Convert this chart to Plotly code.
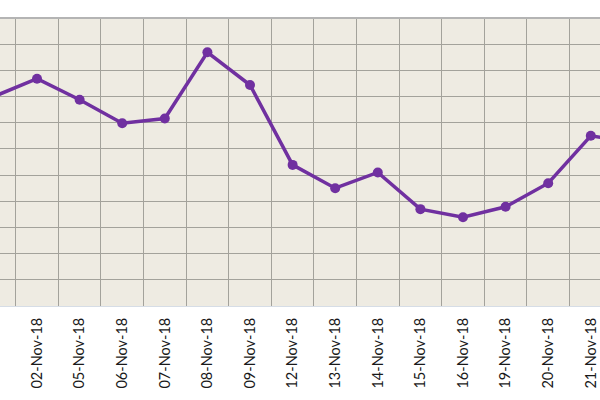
import plotly.graph_objects as go

# dates on the category axis (chart is a cut-out, first and last run off the edge)
dates = ["01-Nov-18", "02-Nov-18", "05-Nov-18", "06-Nov-18", "07-Nov-18",
         "08-Nov-18", "09-Nov-18", "12-Nov-18", "13-Nov-18", "14-Nov-18",
         "15-Nov-18", "16-Nov-18", "19-Nov-18", "20-Nov-18", "21-Nov-18",
         "22-Nov-18"]
values = [80.1, 86.8, 78.8, 69.8, 71.6, 96.9, 84.4, 53.9, 45.0, 51.0,
          37.0, 33.9, 37.9, 46.9, 65.0, 62.5]

purple = "#7030A0"

fig = go.Figure()
fig.add_trace(go.Scatter(
    x=dates, y=values, mode="lines+markers",
    line=dict(color=purple, width=3.5),
    marker=dict(color=purple, size=10),
    cliponaxis=True,
))

fig.update_layout(
    width=600, height=400,
    margin=dict(l=0, r=0, t=18, b=94, autoexpand=False),
    paper_bgcolor="white",
    plot_bgcolor="#EEEBE2",
    showlegend=False,
    font=dict(family="Lato", size=14.5, color="#1A1A1A"),
)
fig.update_xaxes(
    type="category",
    range=[0.131, 14.216],
    automargin=False,
    tickson="boundaries",
    showgrid=True, gridcolor="#A3A29B", gridwidth=1,
    tickangle=-90,
    ticks="", ticklabelstandoff=5,
    showline=True, linecolor="#D6DDE6", linewidth=1,
    zeroline=False,
)
fig.update_yaxes(
    range=[0, 110], dtick=10,
    automargin=False,
    showgrid=True, gridcolor="#A3A29B", gridwidth=1,
    showticklabels=False, zeroline=False,
)
# grey rule along the top of the plot area
fig.add_shape(type="line", xref="paper", yref="paper", x0=0, x1=1, y0=1, y1=1,
              line=dict(color="#B4B4B4", width=2))

# page has a default 8px body margin; drop it so the chart fills the window
fig.write_html("out.html",
               config={"displayModeBar": False},
               post_script="document.body.style.margin='0';document.body.style.overflow='hidden';")
